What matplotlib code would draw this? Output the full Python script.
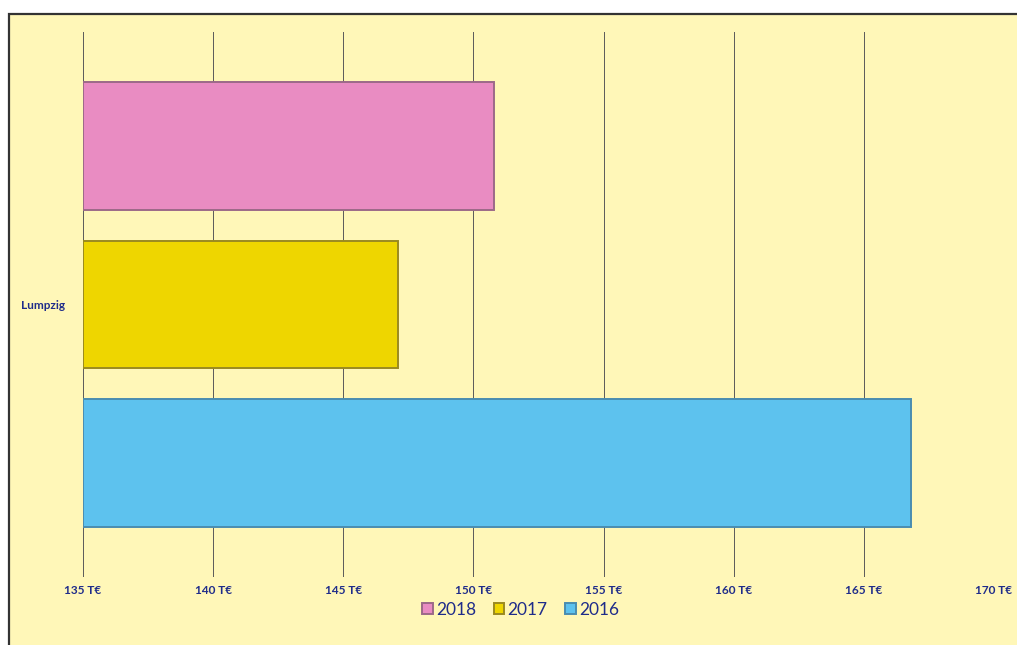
import matplotlib
matplotlib.use("Agg")
import matplotlib.pyplot as plt
from matplotlib.patches import Rectangle
from matplotlib.ticker import FuncFormatter, MultipleLocator

# Umsatz je Jahr (in T€)
kategorie = "Lumpzig"
jahre = ["2018", "2017", "2016"]
werte = [150.8, 147.1, 166.8]
farben = ["#E98CC2", "#EED600", "#5DC2EE"]
kanten = ["#9C6A88", "#9A8A20", "#4A8DB0"]

plt.rcParams["font.family"] = ["Lato", "DejaVu Sans"]
textfarbe = "#1F2C8A"
hintergrund = "#FFF7B8"

fig = plt.figure(figsize=(10.17, 6.45), dpi=100)
fig.patch.set_facecolor("white")

# Rahmen um das Diagramm
W, H = 1017, 645
rahmen = Rectangle((9 / W, -0.01), 1.02, 1 - 14 / H + 0.01,
                   transform=fig.transFigure, facecolor=hintergrund,
                   edgecolor="#333333", linewidth=1.6, zorder=-10)
fig.patches.append(rahmen)

ax = fig.add_axes([83 / W, (H - 577) / H, 911 / W, 545 / H])
ax.set_facecolor("none")
ax.set_zorder(5)

abstand = 1.0
hoehe = 0.805
positionen = [abstand, 0, -abstand]
for pos, wert, f, k, j in zip(positionen, werte, farben, kanten, jahre):
    ax.barh(pos, wert - 135, left=135, height=hoehe, color=f,
            edgecolor=k, linewidth=1.4, label=j, zorder=3)

ax.set_xlim(135, 170)
ax.set_ylim(-1.714, 1.714)
ax.xaxis.set_major_locator(MultipleLocator(5))
ax.xaxis.set_major_formatter(FuncFormatter(lambda v, p: f"{v:.0f} T€"))

# vertikale Gitterlinien (ohne 170)
for x in range(135, 170, 5):
    ax.axvline(x, color="#5a5a5a", linewidth=0.7, zorder=1)

ax.set_yticks([0])
ax.set_yticklabels([kategorie])
ax.tick_params(axis="y", length=0, pad=13, labelsize=8.5, labelcolor=textfarbe)
ax.tick_params(axis="x", length=0, pad=6, labelsize=8.5, labelcolor=textfarbe)
for lbl in ax.get_xticklabels() + ax.get_yticklabels():
    lbl.set_fontweight("bold")

for s in ax.spines.values():
    s.set_visible(False)

leg = fig.legend(loc="center", bbox_to_anchor=(0.512, 35 / H), ncol=3,
                 frameon=False, fontsize=12.5, handlelength=0.6, handleheight=0.6,
                 handletextpad=0.2, columnspacing=1.0)
leg.set_zorder(6)
for t in leg.get_texts():
    t.set_color(textfarbe)

fig.savefig("out.png", dpi=100, facecolor=fig.get_facecolor())
